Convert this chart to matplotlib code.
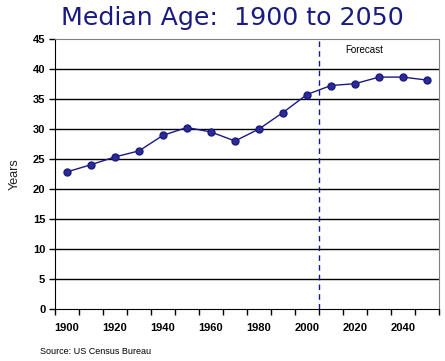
import matplotlib
matplotlib.use("Agg")
import matplotlib.pyplot as plt
import numpy as np

years = [1900, 1910, 1920, 1930, 1940, 1950, 1960, 1970,
         1980, 1990, 2000, 2010, 2020, 2030, 2040, 2050]
median_age = [22.9, 24.1, 25.4, 26.4, 29.0, 30.3, 29.55, 28.05,
              30.05, 32.8, 35.8, 37.3, 37.6, 38.7, 38.7, 38.2]
y_ticks = [0, 5, 10, 15, 20, 25, 30, 35, 40, 45]
x_labels = ["1900", "1920", "1940", "1960", "1980", "2000", "2020", "2040"]

navy = "#1a1a80"
fig = plt.figure(figsize=(4.45, 3.61), dpi=100)
ax = fig.add_axes([55/445, 1-309.3/361, 384/445, 270/361])

x = np.arange(len(years))
ax.plot(x, median_age, color=navy, lw=1.0, marker="o", ms=5.0,
        markerfacecolor="#2b2b96", markeredgecolor=navy, zorder=3)

ax.set_xlim(-0.5, len(years) - 0.5)
ax.set_ylim(0, 45)
ax.set_yticks(y_ticks)
ax.set_yticklabels([str(v) for v in y_ticks], fontfamily="Liberation Sans",
                   fontweight="bold", fontsize=8)
for v in y_ticks[1:-1]:
    ax.axhline(v, color="black", lw=1.0, zorder=1)

ax.set_xticks(np.arange(-0.5, len(years), 1.0))
ax.set_xticklabels([])
ax.set_xticks(x[::2], minor=True)
ax.set_xticklabels(x_labels, minor=True, fontfamily="Liberation Sans",
                   fontweight="bold", fontsize=8)
ax.tick_params(axis="x", which="minor", length=0, pad=10)
ax.tick_params(axis="x", which="major", length=4, width=1, direction="out")
ax.tick_params(axis="y", length=4, width=1, direction="out", pad=3)

for s in ["top", "right"]:
    ax.spines[s].set_color("#808080")
for s in ["left", "bottom"]:
    ax.spines[s].set_color("black")

ax.axvline(10.5, color=navy, lw=1.0, ls=(0, (4, 3)), zorder=2)
ax.text(12.4, 43.2, "Forecast", fontfamily="Liberation Sans", fontsize=7,
        ha="center", va="center")

ax.set_ylabel("Years", fontfamily="Liberation Sans", fontsize=9, color="#222222",
              labelpad=9)

fig.text(232/445, 1-18/361, "Median Age:  1900 to 2050", color=navy,
         fontfamily="DejaVu Sans", fontsize=18.2, ha="center", va="center")
fig.text(40/445, 1-352/361, "Source: US Census Bureau", fontfamily="Liberation Sans",
         fontsize=6.5, ha="left", va="center")

fig.savefig("out.png", dpi=100)
